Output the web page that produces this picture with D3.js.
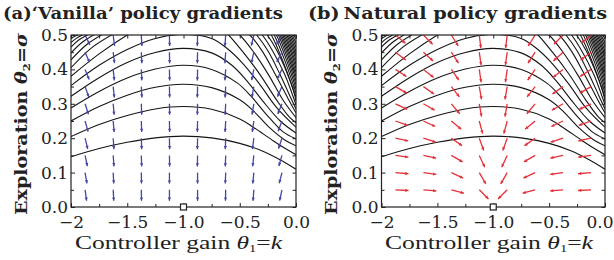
<!DOCTYPE html>
<html><head><meta charset="utf-8">
<script src="https://cdn.jsdelivr.net/npm/d3@7"></script>
<style>
body{margin:0;background:#fff}
text{font-family:"DejaVu Serif","Liberation Serif",serif;fill:#222}
</style></head>
<body><svg id="c" width="614" height="260"></svg>
<script>
// ---------- data ----------
const xTicks = [-2, -1.5, -1, -0.5, 0];
const xTickLabels = ["\u22122", "\u22121.5", "\u22121.0", "\u22120.5", "0.0"];
const xMinorTicks = [-1.75, -1.25, -0.75, -0.25];
const yTicks = [0, 0.1, 0.2, 0.3, 0.4, 0.5];
const yTickLabels = ["0.0", "0.1", "0.2", "0.3", "0.4", "0.5"];
const yMinorTicks = [0.05, 0.15, 0.25, 0.35, 0.45];
const arrowK = [-1.875, -1.625, -1.375, -1.125, -0.875, -0.625, -0.375, -0.125];
const arrowSigma = [0.05, 0.10, 0.15, 0.20, 0.25, 0.30, 0.35, 0.40, 0.45, 0.50];
// arrow direction, degrees away from straight down (+ = towards larger k)
const vanillaAngle = [
  [ 8, 3, 1, 0,  0, -1,  -4, -12],
  [10, 3, 1, 0,  0, -2,  -5, -14],
  [12, 4, 2, 1, -1, -2,  -6, -16],
  [14, 4, 2, 1, -1, -2,  -7, -18],
  [16, 5, 2, 1, -1, -3,  -8, -20],
  [18, 5, 2, 1, -1, -3,  -9, -22],
  [20, 6, 3, 1, -1, -3, -10, -24],
  [22, 6, 3, 1, -1, -4, -11, -26],
  [24, 7, 3, 1, -1, -4, -12, -28],
  [26, 7, 3, 1, -1, -4, -13, -30]
];
const naturalAngle = [
  [87, 85, 75, 45, -45, -75, -85, -87],
  [85, 82, 65, 30, -30, -65, -82, -85],
  [82, 78, 60, 25, -25, -60, -78, -82],
  [78, 72, 55, 20, -20, -55, -72, -78],
  [70, 65, 50, 15, -15, -50, -65, -70],
  [65, 60, 40, 10, -10, -40, -60, -65],
  [60, 55, 38, 10, -10, -38, -55, -60],
  [57, 52, 35,  8,  -8, -35, -52, -57],
  [53, 48, 33,  8,  -8, -33, -48, -53],
  [50, 45, 32,  7,  -7, -32, -45, -50]
];
// contour lines of the expected return, [k, sigma] points
const archLines = [
  [[-2,0.146],[-1.75,0.170],[-1.5,0.188],[-1.25,0.201],[-1,0.206],[-0.75,0.201],[-0.5,0.185],[-0.3,0.163],[-0.15,0.139],[0,0.11]],
  [[-2,0.205],[-1.75,0.240],[-1.5,0.266],[-1.25,0.285],[-1,0.292],[-0.75,0.284],[-0.5,0.256],[-0.38,0.232],[-0.2,0.192],[-0.08,0.167],[0,0.152]],
  [[-2,0.250],[-1.75,0.292],[-1.5,0.325],[-1.25,0.348],[-1,0.357],[-0.75,0.347],[-0.5,0.312],[-0.38,0.28],[-0.24,0.232],[-0.1,0.195],[0,0.178]],
  [[-2,0.288],[-1.75,0.336],[-1.5,0.375],[-1.25,0.401],[-1,0.412],[-0.75,0.4],[-0.52,0.36],[-0.4,0.322],[-0.26,0.268],[-0.12,0.22],[0,0.198]],
  [[-2,0.322],[-1.75,0.376],[-1.5,0.42],[-1.25,0.449],[-1,0.461],[-0.75,0.448],[-0.57,0.412],[-0.44,0.368],[-0.3,0.31],[-0.14,0.25],[0,0.215]],
  [[-2,0.353],[-1.75,0.412],[-1.5,0.458],[-1.25,0.49],[-1,0.502],[-0.75,0.49],[-0.62,0.463],[-0.48,0.42],[-0.33,0.36],[-0.17,0.288],[0,0.232]]
];
const leftFlankLines = [
  [[-2,0.38],[-1.75,0.445],[-1.5,0.5],[-1.4,0.518]],
  [[-2,0.405],[-1.82,0.462],[-1.64,0.5],[-1.55,0.515]],
  [[-2,0.428],[-1.865,0.471],[-1.73,0.5],[-1.66,0.512]],
  [[-2,0.448],[-1.90,0.479],[-1.80,0.5],[-1.74,0.51]],
  [[-2,0.465],[-1.928,0.486],[-1.855,0.5],[-1.81,0.51]],
  [[-2,0.478],[-1.95,0.491],[-1.90,0.5],[-1.86,0.508]],
  [[-2,0.489],[-1.97,0.4956],[-1.94,0.5],[-1.91,0.505]],
  [[-2,0.497],[-1.975,0.5],[-1.95,0.503]]
];
const rightFlankLines = [
  [[-0.64,0.51],[-0.6,0.5],[-0.47,0.45],[-0.32,0.385],[-0.17,0.31],[-0.06,0.262],[0,0.245]],
  [[-0.54,0.51],[-0.5,0.5],[-0.38,0.452],[-0.24,0.382],[-0.11,0.308],[0,0.26]],
  [[-0.45,0.51],[-0.41,0.5],[-0.3,0.453],[-0.18,0.383],[-0.07,0.315],[0,0.273]],
  [[-0.38,0.51],[-0.35,0.5],[-0.25,0.454],[-0.14,0.384],[-0.05,0.32],[0,0.285]],
  [[-0.33,0.51],[-0.3,0.5],[-0.21,0.455],[-0.1,0.385],[-0.03,0.325],[0,0.297]],
  [[-0.28,0.51],[-0.255,0.5],[-0.17,0.455],[-0.08,0.39],[-0.02,0.335],[0,0.309]],
  [[-0.24,0.508],[-0.22,0.5],[-0.11,0.419],[0,0.32]],
  [[-0.215,0.508],[-0.195,0.5],[-0.0975,0.424],[0,0.332]],
  [[-0.195,0.508],[-0.175,0.5],[-0.0875,0.43],[0,0.344]],
  [[-0.178,0.508],[-0.158,0.5],[-0.079,0.435],[0,0.356]],
  [[-0.164,0.508],[-0.144,0.5],[-0.072,0.441],[0,0.368]],
  [[-0.151,0.508],[-0.131,0.5],[-0.0655,0.446],[0,0.38]],
  [[-0.139,0.508],[-0.119,0.5],[-0.0595,0.451],[0,0.392]],
  [[-0.127,0.508],[-0.107,0.5],[-0.0535,0.457],[0,0.404]],
  [[-0.115,0.508],[-0.095,0.5],[-0.0475,0.462],[0,0.416]],
  [[-0.103,0.508],[-0.083,0.5],[-0.0415,0.468],[0,0.428]],
  [[-0.091,0.508],[-0.071,0.5],[-0.0355,0.473],[0,0.44]],
  [[-0.079,0.508],[-0.059,0.5],[-0.0295,0.478],[0,0.452]],
  [[-0.067,0.508],[-0.047,0.5],[-0.0235,0.484],[0,0.464]],
  [[-0.055,0.508],[-0.035,0.5],[-0.0175,0.489],[0,0.476]],
  [[-0.043,0.508],[-0.023,0.5],[-0.0115,0.495],[0,0.488]]
];
const optimum = [-1, 0];

// ---------- drawing ----------
const svg = d3.select("#c");
const panels = [
  {x0: 71, x1: 296, title: "(a)\u2018Vanilla\u2019 policy gradients", tx: 3, tw: 280,
   angles: vanillaAngle, color: "#4646a8", len: 11, ylabX: 27, xlab: [75, 282]},
  {x0: 381.5, x1: 605, title: "(b)\u2009Natural policy gradients", tx: 308, tw: 299,
   angles: naturalAngle, color: "#e3323a", len: 13, ylabX: 337, xlab: [385, 593]}
];
const y0 = 35, y1 = 207;
const allContours = archLines.concat(leftFlankLines, rightFlankLines);

panels.forEach((p, pi) => {
  const x = d3.scaleLinear().domain([-2, 0]).range([p.x0, p.x1]);
  const y = d3.scaleLinear().domain([0, 0.5]).range([y1, y0]);
  const g = svg.append("g");
  const clipId = "clip" + pi;
  svg.append("clipPath").attr("id", clipId).append("rect")
    .attr("x", p.x0).attr("y", y0).attr("width", p.x1 - p.x0).attr("height", y1 - y0);

  // contours
  const line = d3.line().x(d => x(d[0])).y(d => y(d[1])).curve(d3.curveCatmullRom);
  g.append("g").attr("clip-path", `url(#${clipId})`)
    .selectAll("path").data(allContours).join("path")
    .attr("d", line).attr("fill", "none").attr("stroke", "#151515").attr("stroke-width", 1.1);

  // arrows
  const ag = g.append("g").attr("clip-path", `url(#${clipId})`);
  arrowSigma.forEach((s, ri) => {
    arrowK.forEach((k, ci) => {
      const a = p.angles[ri][ci] * Math.PI / 180;
      const dx = Math.sin(a), dy = Math.cos(a);
      const xs = x(k), ys = y(s);
      const xe = xs + dx * p.len, ye = ys + dy * p.len;
      ag.append("line").attr("x1", xs).attr("y1", ys).attr("x2", xe).attr("y2", ye)
        .attr("stroke", p.color).attr("stroke-width", 1.3);
      const hl = 3.2, hw = 1.6;
      const bx = xe - dx * hl, by = ye - dy * hl;
      ag.append("path")
        .attr("d", `M${xe},${ye}L${bx - dy * hw},${by + dx * hw}L${bx + dy * hw},${by - dx * hw}Z`)
        .attr("fill", p.color);
    });
  });

  // frame
  g.append("rect").attr("x", p.x0).attr("y", y0).attr("width", p.x1 - p.x0).attr("height", y1 - y0)
    .attr("fill", "none").attr("stroke", "#222").attr("stroke-width", 1.2);

  // axes (ticks inward on all sides)
  const xAll = xTicks.concat(xMinorTicks), yAll = yTicks.concat(yMinorTicks);
  const xb = g.append("g").attr("transform", `translate(0,${y1})`)
    .call(d3.axisBottom(x).tickValues(xTicks).tickFormat((d, i) => xTickLabels[i]).tickSizeInner(-4).tickSizeOuter(0).tickPadding(9));
  const xb2 = g.append("g").attr("transform", `translate(0,${y1})`)
    .call(d3.axisBottom(x).tickValues(xMinorTicks).tickFormat("").tickSizeInner(-3).tickSizeOuter(0));
  const xt = g.append("g").attr("transform", `translate(0,${y0})`)
    .call(d3.axisTop(x).tickValues(xAll).tickFormat("").tickSizeInner(-3.5).tickSizeOuter(0));
  const yl = g.append("g").attr("transform", `translate(${p.x0},0)`)
    .call(d3.axisLeft(y).tickValues(yTicks).tickFormat((d, i) => yTickLabels[i]).tickSizeInner(-4).tickSizeOuter(0).tickPadding(3));
  const yl2 = g.append("g").attr("transform", `translate(${p.x0},0)`)
    .call(d3.axisLeft(y).tickValues(yMinorTicks).tickFormat("").tickSizeInner(-3).tickSizeOuter(0));
  const yr = g.append("g").attr("transform", `translate(${p.x1},0)`)
    .call(d3.axisRight(y).tickValues(yAll).tickFormat("").tickSizeInner(-3.5).tickSizeOuter(0));
  [xb, xb2, xt, yl, yl2, yr].forEach(a => {
    a.select(".domain").remove();
    a.selectAll("line").attr("stroke", "#222");
    a.selectAll("text").attr("font-size", 17).attr("fill", "#222")
      .style("font-family", '"DejaVu Serif","Liberation Serif",serif');
  });
  // keep the last x label inside the picture
  xb.selectAll(".tick text").filter(d => d === 0 && p.x1 + 14 > 614)
    .attr("text-anchor", "end").attr("x", 613 - p.x1);

  // optimum marker
  g.append("rect").attr("x", x(optimum[0]) - 3).attr("y", y(optimum[1]) - 3)
    .attr("width", 6).attr("height", 6).attr("fill", "#fff").attr("stroke", "#222").attr("stroke-width", 1.2);

  // title
  g.append("text").attr("x", p.tx).attr("y", 19).attr("font-size", 16.5).attr("font-weight", "bold")
    .attr("textLength", p.tw).attr("lengthAdjust", "spacingAndGlyphs")
    .text(p.title);

  // x label
  const xl = g.append("text").attr("x", p.xlab[0]).attr("y", 249).attr("font-size", 19.5)
    .style("font-family", '"Liberation Serif","DejaVu Serif",serif')
    .attr("textLength", p.xlab[1] - p.xlab[0]).attr("lengthAdjust", "spacingAndGlyphs");
  xl.append("tspan").text("Controller gain ");
  xl.append("tspan").attr("font-style", "italic").text("\u03b8");
  xl.append("tspan").attr("font-size", 11).attr("dy", 3).text("1");
  xl.append("tspan").attr("dy", -3).text("=");
  xl.append("tspan").attr("font-style", "italic").text("k");

  // y label
  const ylb = g.append("text").attr("transform", `translate(${p.ylabX},${(y0 + y1) / 2 + 3}) rotate(-90)`)
    .attr("font-size", 16.5).attr("text-anchor", "middle").attr("font-weight", "bold")
    .attr("textLength", 182).attr("lengthAdjust", "spacingAndGlyphs");
  ylb.append("tspan").text("Exploration ");
  ylb.append("tspan").attr("font-style", "italic").text("\u03b8");
  ylb.append("tspan").attr("font-size", 10).attr("dy", 3).text("2");
  ylb.append("tspan").attr("dy", -3).text("=");
  ylb.append("tspan").attr("font-style", "italic").text("\u03c3");
});
</script></body></html>
